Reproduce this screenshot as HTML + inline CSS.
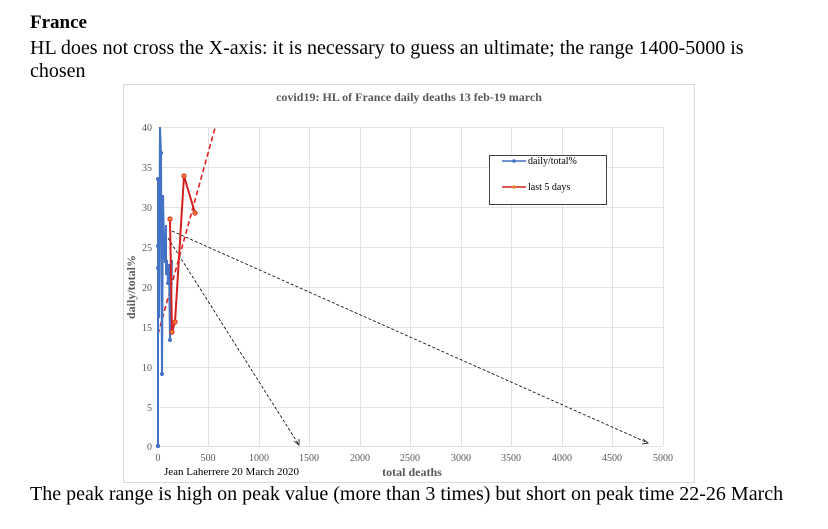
<!DOCTYPE html>
<html><head><meta charset="utf-8"><style>
body{margin:0;width:828px;height:529px;background:#fff;overflow:hidden;font-family:"Liberation Serif",serif;}
.t{position:absolute;left:30px;color:#000;}
</style></head><body>
<div class="t" style="top:12px;font-size:19px;font-weight:bold;">France</div>
<div class="t" style="top:37px;font-size:20px;line-height:23px;width:740px;">HL does not cross the X-axis: it is necessary to guess an ultimate; the range 1400-5000 is chosen</div>
<div class="t" style="top:483px;font-size:20px;white-space:nowrap;">The peak range is high on peak value (more than 3 times) but short on peak time 22-26 March</div>
<svg style="position:absolute;left:0;top:0" width="828" height="529" font-family="Liberation Serif,serif">
<rect x="123.5" y="84.5" width="571" height="398" fill="#fff" stroke="#d9d9d9"/>
<text x="409" y="101" text-anchor="middle" font-size="12" font-weight="bold" fill="#595959">covid19: HL of France daily deaths 13 feb-19 march</text>
<g stroke="#e3e3e3" stroke-width="1">
<line x1="158" y1="127.5" x2="663" y2="127.5"/><line x1="158" y1="167.5" x2="663" y2="167.5"/><line x1="158" y1="207.5" x2="663" y2="207.5"/><line x1="158" y1="247.5" x2="663" y2="247.5"/><line x1="158" y1="287.5" x2="663" y2="287.5"/><line x1="158" y1="327.5" x2="663" y2="327.5"/><line x1="158" y1="367.5" x2="663" y2="367.5"/><line x1="158" y1="407.5" x2="663" y2="407.5"/><line x1="158" y1="446.5" x2="663" y2="446.5"/>
<line x1="208.5" y1="127" x2="208.5" y2="446"/><line x1="259.5" y1="127" x2="259.5" y2="446"/><line x1="309.5" y1="127" x2="309.5" y2="446"/><line x1="360.5" y1="127" x2="360.5" y2="446"/><line x1="410.5" y1="127" x2="410.5" y2="446"/><line x1="461.5" y1="127" x2="461.5" y2="446"/><line x1="511.5" y1="127" x2="511.5" y2="446"/><line x1="562.5" y1="127" x2="562.5" y2="446"/><line x1="612.5" y1="127" x2="612.5" y2="446"/><line x1="663.5" y1="127" x2="663.5" y2="446"/>
</g>
<g font-size="10" fill="#595959" text-anchor="end">
<text x="152" y="131">40</text><text x="152" y="171">35</text><text x="152" y="211">30</text><text x="152" y="251">25</text><text x="152" y="291">20</text><text x="152" y="331">15</text><text x="152" y="371">10</text><text x="152" y="411">5</text><text x="152" y="450">0</text>
</g>
<g font-size="10" fill="#595959" text-anchor="middle">
<text x="158" y="461">0</text><text x="208" y="461">500</text><text x="259" y="461">1000</text><text x="309" y="461">1500</text><text x="360" y="461">2000</text><text x="410" y="461">2500</text><text x="461" y="461">3000</text><text x="511" y="461">3500</text><text x="562" y="461">4000</text><text x="612" y="461">4500</text><text x="663" y="461">5000</text>
</g>
<text x="164" y="475" font-size="11" fill="#000">Jean Laherrere 20 March 2020</text>
<text x="412" y="476" text-anchor="middle" font-size="12" font-weight="bold" fill="#595959">total deaths</text>
<text transform="translate(135,287) rotate(-90)" text-anchor="middle" font-size="12" font-weight="bold" fill="#595959">daily/total%</text>
<g stroke="#000" stroke-width="0.8" stroke-dasharray="3,2" fill="none">
<line x1="172" y1="231" x2="648" y2="443"/>
<line x1="168" y1="238" x2="299" y2="445"/>
</g>
<path d="M643,439 L648,443 L642,444 M294,441 L299,445 L299,439" stroke="#000" stroke-width="0.8" fill="none"/>
<line x1="158" y1="334" x2="215" y2="128" stroke="#e02020" stroke-width="1.6" stroke-dasharray="5,3"/>
<polyline fill="none" stroke="#4472c4" stroke-width="2" points="158,446 158,179 158,246 158,268 159,318 160,127 161,153 162,374 163,195 164,246 165,263 166,225 166,275 167,260 168,283 169,264 170,340 172,260"/>
<g fill="#4472c4"><circle cx="158" cy="446" r="2.2"/><circle cx="158" cy="179" r="2"/><circle cx="158" cy="246" r="2"/><circle cx="158" cy="268" r="2"/><circle cx="162" cy="374" r="2"/><circle cx="161" cy="153" r="2"/><circle cx="170" cy="340" r="2"/><circle cx="168" cy="283" r="2"/></g>
<polyline fill="none" stroke="#d42020" stroke-width="2" points="170,219 172,332 175,322 184,176 195,213"/>
<g fill="#ed7d31" stroke="#d42020" stroke-width="0.8"><circle cx="170" cy="219" r="2.2"/><circle cx="172" cy="332" r="2.2"/><circle cx="175" cy="322" r="2.2"/><circle cx="184" cy="176" r="2.2"/><circle cx="195" cy="213" r="2.2"/></g>
<rect x="489.5" y="155.5" width="117" height="49" fill="#fff" stroke="#404040"/>
<line x1="502" y1="161" x2="526" y2="161" stroke="#4472c4" stroke-width="1.5"/><circle cx="514" cy="161" r="1.8" fill="#4472c4"/>
<text x="528" y="164" font-size="10" fill="#000">daily/total%</text>
<line x1="502" y1="187" x2="526" y2="187" stroke="#d42020" stroke-width="1.5"/><circle cx="514" cy="187" r="1.8" fill="#ed7d31"/>
<text x="528" y="190" font-size="10" fill="#000">last 5 days</text>
</svg>
</body></html>
